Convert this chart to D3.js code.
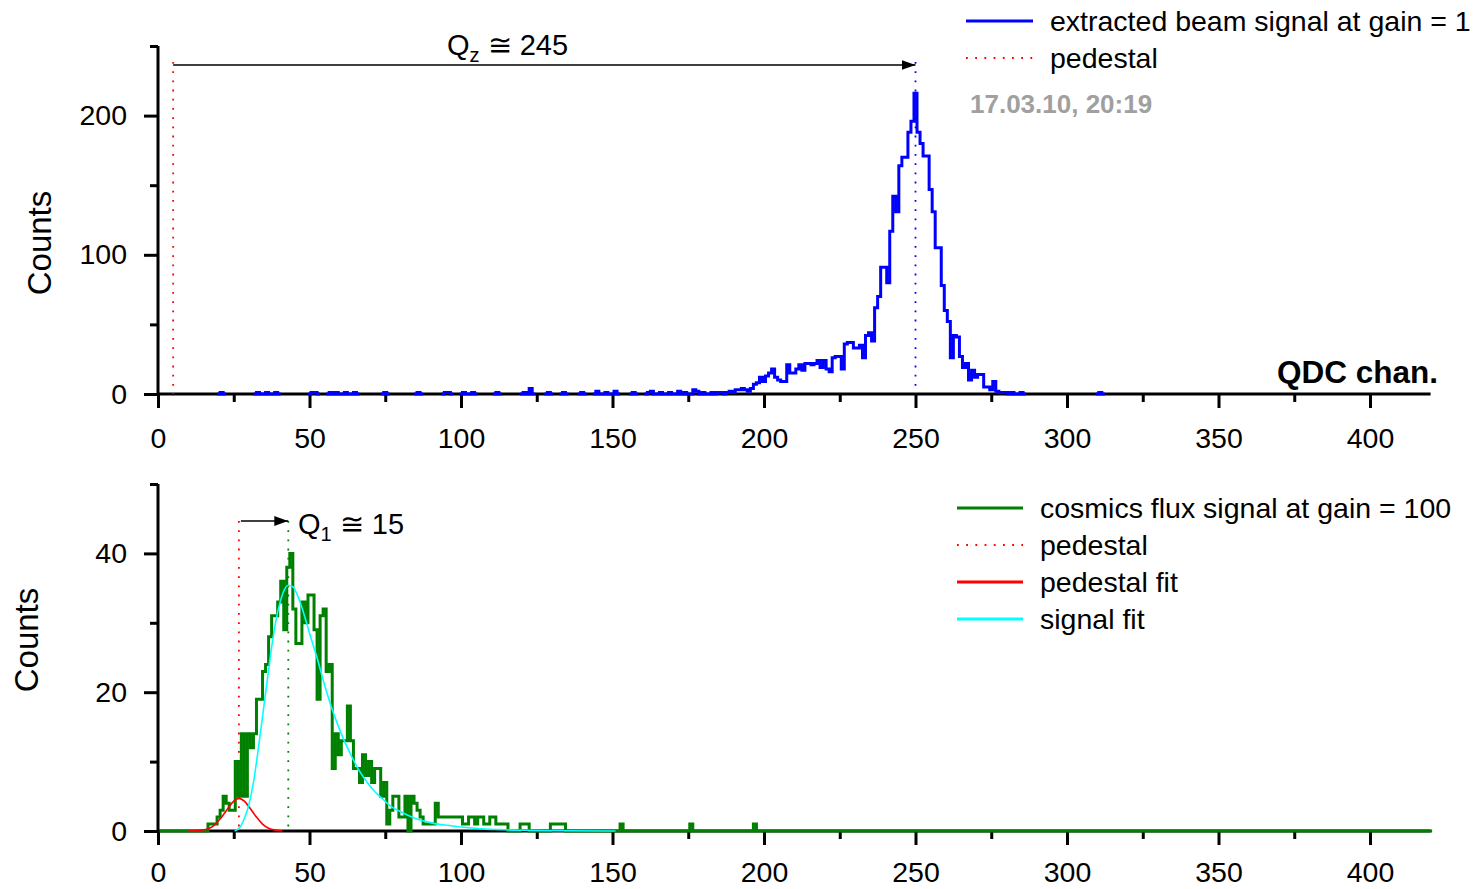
<!DOCTYPE html>
<html>
<head>
<meta charset="utf-8">
<script src="https://cdn.jsdelivr.net/npm/d3@7"></script>
<style>
  body { margin: 0; background: #fff; }
  svg { display: block; }
  text { font-family: "Liberation Sans", Arial, sans-serif; fill: #000; }
</style>
</head>
<body>
<svg id="chart" width="1474" height="889"></svg>
<script>
// ---- tick values ----
const xMajorTicks = [0, 50, 100, 150, 200, 250, 300, 350, 400];
const xMinorTicks = [25, 75, 125, 175, 225, 275, 325, 375];
const topYMajorTicks = [0, 100, 200];
const topYMinorTicks = [50, 150, 250];
const botYMajorTicks = [0, 20, 40];
const botYMinorTicks = [10, 30, 50];

// ---- extracted beam, gain 1: counts per QDC channel (peak region) ----
const beamFirstChannel = 185;
const beamCounts = [
  1, 1, 0, 1, 2, 1, 3, 3, 4, 3,          // 185-194
  2, 4, 7, 8, 12, 9, 13, 15, 18, 12,     // 195-204
  10, 9, 9, 21, 15, 15, 18, 21, 17, 22,  // 205-214
  22, 21, 22, 24, 19, 24, 18, 16, 26, 27,// 215-224
  27, 18, 36, 37, 37, 33, 33, 35, 26, 42,// 225-234
  44, 38, 62, 70, 91, 91, 80, 117, 142, 131, // 235-244
  164, 170, 170, 188, 196, 216, 188, 180, 171, 171, // 245-254
  147, 131, 105, 105, 78, 60, 52, 26, 42, 41,       // 255-264
  27, 19, 22, 10, 17, 12, 14, 14, 5, 5,             // 265-274
  3, 9, 2, 1, 1, 1, 0, 1, 0, 0,                     // 275-284
  1, 0, 0, 0, 0, 0                                  // 285-290
];
// isolated low counts below and above the peak region
const beamNoiseChannels = [21, 33, 36, 39, 51, 52, 57, 59, 62, 65, 75, 86, 95, 96, 101, 104, 112, 121, 123, 129, 134, 140, 145, 148, 151, 157, 162, 163, 166, 169, 172, 174, 177, 178, 180, 183, 311];
const beamNoiseCounts   = [ 1,  1,  1,  1,  1,  1,  1,  1,  1,  1,  1,  1,  1,  1,   1,   1,   1,   1,   4,   1,   1,   1,   2,   1,   2,   1,   1,   2,   1,   1,   2,   1,   3,   2,   1,   1,   1];

// ---- cosmics flux, gain 100: counts per QDC channel ----
const cosmicsFirstChannel = 14;
const cosmicsCounts = [
  0, 0, 0, 1, 1, 1, 2, 3, 5, 4,          // 14-23
  3, 3, 10, 5, 14, 5, 14, 12, 14, 19,    // 24-33
  19, 23, 24, 28, 31, 31, 33, 36, 29, 38,// 34-43
  40, 32, 27, 27, 33, 30, 34, 34, 29, 19,// 44-53
  31, 32, 23, 24, 9, 14, 11, 13, 13, 18, // 54-63
  13, 9, 9, 7, 11, 8, 10, 7, 9, 9,       // 64-73
  5, 7, 1, 3, 5, 5, 2, 2, 5, 0,          // 74-83
  5, 4, 3, 2, 1, 1, 1, 1, 4, 2,          // 84-93
  2, 2, 2, 2, 2, 2, 2, 1, 1, 2,          // 94-103
  2, 1, 2, 2, 1, 1, 2, 2, 1, 1,          // 104-113
  1, 1, 0, 0, 0, 0, 1, 1, 1, 0,          // 114-123
  0, 0, 0, 0, 0, 0, 1, 1, 1, 1,          // 124-133
  1, 0                                   // 134-135
];
const cosmicsNoiseChannels = [153, 176, 197];
const cosmicsNoiseCounts = [1, 1, 1];
const cosmicsLastChannel = 420;

// ---- fitted curves (channel, counts) ----
const pedestalFitChannels = [10, 14, 17, 19, 21, 23, 25, 26.7, 28.5, 30.5, 32.5, 34.5, 36.5, 39, 41];
const pedestalFitCounts   = [0, 0.1, 0.4, 1.0, 2.0, 3.2, 4.3, 4.7, 4.3, 3.2, 2.0, 1.0, 0.4, 0.1, 0];
const signalFitChannels = [25.3, 27, 28.5, 30, 31.5, 33, 34.5, 36, 37.5, 39, 40.5, 42, 43, 44.5, 46, 48, 50, 52.4, 55, 57.9, 60.5, 63.4, 66, 68.9, 71.5, 74.4, 77, 79.9, 85, 90.9, 96, 101.9, 107, 112.9, 120, 135, 151];
const signalFitCounts   = [0, 0.5, 1.8, 3.8, 7, 11.5, 16.5, 21.5, 26.5, 30.5, 33.3, 35, 35.4, 35.2, 34, 31.5, 28.5, 25.1, 21, 17, 14, 11.2, 9, 7.1, 5.7, 4.5, 3.5, 2.8, 1.8, 1.1, 0.8, 0.5, 0.3, 0.2, 0.1, 0.03, 0];

// ---- marker positions ----
const beamPedestal = 5, beamPeak = 250;
const cosmicsPedestal = 26.7, cosmicsPeak = 43;

// ---- colours ----
const BLUE = "#0000ff", GREEN = "#008000", RED = "#ff0000", CYAN = "#00ffff";

const svg = d3.select("#chart");

const x = d3.scaleLinear().domain([0, 400]).range([158, 1370]);
const xEnd = 420;
const yTop = d3.scaleLinear().domain([0, 250]).range([394, 46]);
const yBot = d3.scaleLinear().domain([0, 50]).range([831, 484]);

const defs = svg.append("defs");
defs.append("marker")
  .attr("id", "arrow").attr("markerUnits", "userSpaceOnUse")
  .attr("viewBox", "0 0 14 10").attr("refX", 14).attr("refY", 5)
  .attr("markerWidth", 14).attr("markerHeight", 10).attr("orient", "auto")
  .append("path").attr("d", "M0,0 L14,5 L0,10 Z").attr("fill", "#000");

// build a dense channel -> count table
function denseCounts(first, counts, noiseCh, noiseCt, lo, hi) {
  const m = new Map();
  counts.forEach((v, i) => m.set(first + i, v));
  noiseCh.forEach((c, i) => m.set(c, (m.get(c) || 0) + noiseCt[i]));
  const out = [];
  for (let c = lo; c <= hi; c++) out.push({ ch: c, v: m.get(c) || 0 });
  return out;
}

// histogram as a step outline; bins centred on integer channels
function stepPoints(bins, keepZeros) {
  const pts = [];
  bins.forEach((b, i) => {
    const prev = i > 0 ? bins[i - 1].v : 0;
    const next = i < bins.length - 1 ? bins[i + 1].v : 0;
    const show = keepZeros || b.v > 0 || prev > 0 || next > 0;
    pts.push({ c: b.ch - 0.5, v: b.v, show });
    pts.push({ c: b.ch + 0.5, v: b.v, show });
  });
  return pts;
}

function drawAxes(g, y, yMajor, yMinor, yTopVal, y0, xPad) {
  const major = 14, minor = 8;
  // x axis ticks
  g.append("g").attr("transform", `translate(0,${y0})`)
    .call(d3.axisBottom(x).tickValues(xMajorTicks).tickSize(major).tickSizeOuter(0).tickPadding(xPad))
    .call(a => a.select(".domain").remove())
    .call(a => a.selectAll("line").attr("stroke", "#000").attr("stroke-width", 3))
    .call(a => a.selectAll("text").attr("font-size", 28.5).attr("font-family", "Liberation Sans, Arial, sans-serif").attr("fill", "#000"));
  g.append("g").attr("transform", `translate(0,${y0})`)
    .call(d3.axisBottom(x).tickValues(xMinorTicks).tickSize(minor).tickFormat(""))
    .call(a => a.select(".domain").remove())
    .call(a => a.selectAll("line").attr("stroke", "#000").attr("stroke-width", 3));
  // y axis ticks
  g.append("g").attr("transform", `translate(${x(0)},0)`)
    .call(d3.axisLeft(y).tickValues(yMajor).tickSize(major).tickSizeOuter(0).tickPadding(17))
    .call(a => a.select(".domain").remove())
    .call(a => a.selectAll("line").attr("stroke", "#000").attr("stroke-width", 3))
    .call(a => a.selectAll("text").attr("font-size", 28.5).attr("font-family", "Liberation Sans, Arial, sans-serif").attr("fill", "#000"));
  g.append("g").attr("transform", `translate(${x(0)},0)`)
    .call(d3.axisLeft(y).tickValues(yMinor).tickSize(minor).tickFormat(""))
    .call(a => a.select(".domain").remove())
    .call(a => a.selectAll("line").attr("stroke", "#000").attr("stroke-width", 3));
  // axis lines
  g.append("line").attr("x1", x(0)).attr("x2", x(xEnd)).attr("y1", y0).attr("y2", y0)
    .attr("stroke", "#000").attr("stroke-width", 3);
  g.append("line").attr("x1", x(0)).attr("x2", x(0)).attr("y1", y(yTopVal)).attr("y2", y0 + 1.5)
    .attr("stroke", "#000").attr("stroke-width", 3);
}

function vDotted(g, xv, y1, y2, color) {
  g.append("line").attr("x1", x(xv)).attr("x2", x(xv)).attr("y1", y1).attr("y2", y2)
    .attr("stroke", color).attr("stroke-width", 1.8).attr("stroke-dasharray", "1.8,7.4");
}

function legendRow(g, lx1, lx2, tx, yc, color, dotted, label) {
  g.append("line").attr("x1", lx1).attr("x2", lx2).attr("y1", yc).attr("y2", yc)
    .attr("stroke", color).attr("stroke-width", dotted ? 1.8 : 3)
    .attr("stroke-dasharray", dotted ? "1.8,7.4" : null);
  g.append("text").attr("x", tx).attr("y", yc + 10).attr("font-size", 28.5).text(label);
}

// ================= upper panel: extracted beam =================
const beamPanel = svg.append("g");
drawAxes(beamPanel, yTop, topYMajorTicks, topYMinorTicks, 250, yTop(0), 20);

vDotted(beamPanel, beamPedestal, 62, yTop(0), RED);
vDotted(beamPanel, beamPeak, 62, yTop(0), BLUE);

const beamBins = denseCounts(beamFirstChannel, beamCounts, beamNoiseChannels, beamNoiseCounts, 15, 320);
const lineTop = d3.line().defined(d => d.show).x(d => x(d.c)).y(d => yTop(d.v));
beamPanel.append("path").datum(stepPoints(beamBins, false))
  .attr("d", lineTop).attr("fill", "none").attr("stroke", BLUE)
  .attr("stroke-width", 3).attr("stroke-linejoin", "miter");

// Q_z arrow
beamPanel.append("line").attr("x1", x(beamPedestal)).attr("x2", x(beamPeak)).attr("y1", 65).attr("y2", 65)
  .attr("stroke", "#000").attr("stroke-width", 1.5).attr("marker-end", "url(#arrow)");
const qz = beamPanel.append("text").attr("x", 447).attr("y", 55).attr("font-size", 29);
qz.append("tspan").text("Q");
qz.append("tspan").attr("font-size", 20).attr("dy", 7).text("z");
qz.append("tspan").attr("dy", -7).text(" \u2245 245");

beamPanel.append("text").attr("x", 1438).attr("y", 383).attr("text-anchor", "end")
  .attr("font-size", 31.5).attr("font-weight", "bold").text("QDC chan.");

beamPanel.append("text").attr("transform", "translate(51,243) rotate(-90)")
  .attr("text-anchor", "middle").attr("font-size", 33).text("Counts");

legendRow(beamPanel, 966, 1033, 1050, 21, BLUE, false, "extracted beam signal at gain = 1");
legendRow(beamPanel, 966, 1033, 1050, 58, RED, true, "pedestal");
beamPanel.append("text").attr("x", 970).attr("y", 113).attr("font-size", 26).attr("font-weight", "bold")
  .style("fill", "#a0a0a0").text("17.03.10, 20:19");

// ================= lower panel: cosmics =================
const cosmicsPanel = svg.append("g");
drawAxes(cosmicsPanel, yBot, botYMajorTicks, botYMinorTicks, 50, yBot(0), 17);

vDotted(cosmicsPanel, cosmicsPedestal, 521, yBot(0), RED);
vDotted(cosmicsPanel, cosmicsPeak, 521, yBot(0), GREEN);

const cosmicsBins = denseCounts(cosmicsFirstChannel, cosmicsCounts, cosmicsNoiseChannels, cosmicsNoiseCounts, 1, cosmicsLastChannel);
const lineBot = d3.line().defined(d => d.show).x(d => x(d.c)).y(d => yBot(d.v));
cosmicsPanel.append("path").datum(stepPoints(cosmicsBins, true))
  .attr("d", lineBot).attr("fill", "none").attr("stroke", GREEN)
  .attr("stroke-width", 3).attr("stroke-linejoin", "miter");

const fitLine = d3.line().curve(d3.curveMonotoneX).x(d => x(d[0])).y(d => yBot(d[1]));
cosmicsPanel.append("path").datum(pedestalFitChannels.map((c, i) => [c, pedestalFitCounts[i]]))
  .attr("d", fitLine).attr("fill", "none").attr("stroke", RED).attr("stroke-width", 1.6);
cosmicsPanel.append("path").datum(signalFitChannels.map((c, i) => [c, signalFitCounts[i]]))
  .attr("d", fitLine).attr("fill", "none").attr("stroke", CYAN).attr("stroke-width", 1.6);

// Q_1 arrow
cosmicsPanel.append("line").attr("x1", x(cosmicsPedestal) + 2).attr("x2", x(cosmicsPeak)).attr("y1", 521).attr("y2", 521)
  .attr("stroke", "#000").attr("stroke-width", 1.5).attr("marker-end", "url(#arrow)");
const q1 = cosmicsPanel.append("text").attr("x", 298).attr("y", 534).attr("font-size", 29);
q1.append("tspan").text("Q");
q1.append("tspan").attr("font-size", 20).attr("dy", 7).text("1");
q1.append("tspan").attr("dy", -7).text(" \u2245 15");

cosmicsPanel.append("text").attr("transform", "translate(38,640) rotate(-90)")
  .attr("text-anchor", "middle").attr("font-size", 33).text("Counts");

legendRow(cosmicsPanel, 957, 1023, 1040, 508, GREEN, false, "cosmics flux signal at gain = 100");
legendRow(cosmicsPanel, 957, 1023, 1040, 545, RED, true, "pedestal");
legendRow(cosmicsPanel, 957, 1023, 1040, 582, RED, false, "pedestal fit");
legendRow(cosmicsPanel, 957, 1023, 1040, 619, CYAN, false, "signal fit");
</script>
</body>
</html>
